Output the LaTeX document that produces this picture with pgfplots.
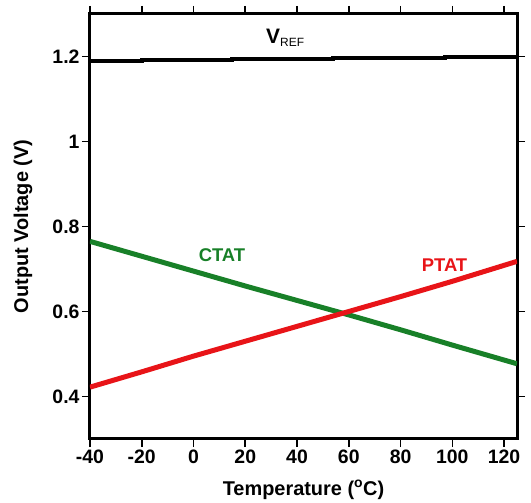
\documentclass[border=0pt]{standalone}
\usepackage{pgfplots}
\pgfplotsset{compat=1.18}
\usepackage{fontspec}
\setmainfont{Liberation Sans}
\definecolor{ctatG}{RGB}{24,128,40}
\definecolor{ptatR}{RGB}{232,20,24}
\begin{document}
\begin{tikzpicture}[x=1bp,y=1bp]
\begin{axis}[
    at={(0,0)}, anchor=south west,
    scale only axis,
    width=427bp, height=425bp,
    xmin=-40, xmax=125, ymin=0.3, ymax=1.3,
    xtick={-40,-20,0,20,40,60,80,100,120},
    xticklabels={-40,-20,0,20,40,60,80,100,120},
    ytick={0.4,0.6,0.8,1,1.2},
    yticklabels={0.4,0.6,0.8,1,1.2},
    tick align=outside, major tick length=8bp,
    tick style={black, line width=1.6bp},
    axis line style={line width=3bp},
    ticklabel style={font=\fontsize{19.5}{22}\selectfont\bfseries},
    label style={font=\fontsize{20}{23}\selectfont\bfseries},
    xticklabel style={yshift=1bp},
    yticklabel style={xshift=1bp},
    xlabel={Temperature (\textsuperscript{o}C)},
    ylabel={Output Voltage (V)},
    xlabel style={at={(axis description cs:0.5,-0.12)}, anchor=center},
    ylabel style={at={(axis description cs:-0.157,0.5)}, anchor=center},
    clip=true,
]
% VREF
\addplot[black, line width=4bp] coordinates {
  (-40,1.189) (-20,1.189) (-20,1.191) (15,1.191) (15,1.194) (54,1.194)
  (54,1.196) (97,1.196) (97,1.198) (125,1.198)
};
% CTAT
\addplot[ctatG, line width=5bp] coordinates {
  (-40,0.765) (-20,0.730) (0,0.695) (20,0.660) (40,0.626) (60,0.592)
  (80,0.557) (100,0.521) (125,0.477)
};
% PTAT
\addplot[ptatR, line width=5bp] coordinates {
  (-40,0.422) (-20,0.458) (0,0.495) (20,0.530) (40,0.565) (60,0.600)
  (80,0.635) (100,0.671) (125,0.718)
};
\node[font=\fontsize{21}{24}\selectfont\bfseries] at (axis cs:35.5,1.245) {V\textsubscript{\fontsize{12}{14}\selectfont\mdseries REF}};
\node[ctatG, font=\fontsize{18.5}{21}\selectfont\bfseries] at (axis cs:11,0.732) {CTAT};
\node[ptatR, font=\fontsize{18.5}{21}\selectfont\bfseries] at (axis cs:97,0.708) {PTAT};
\end{axis}
\pgfresetboundingbox
\path (-90,-64) rectangle (441,439);
\end{tikzpicture}
\end{document}
